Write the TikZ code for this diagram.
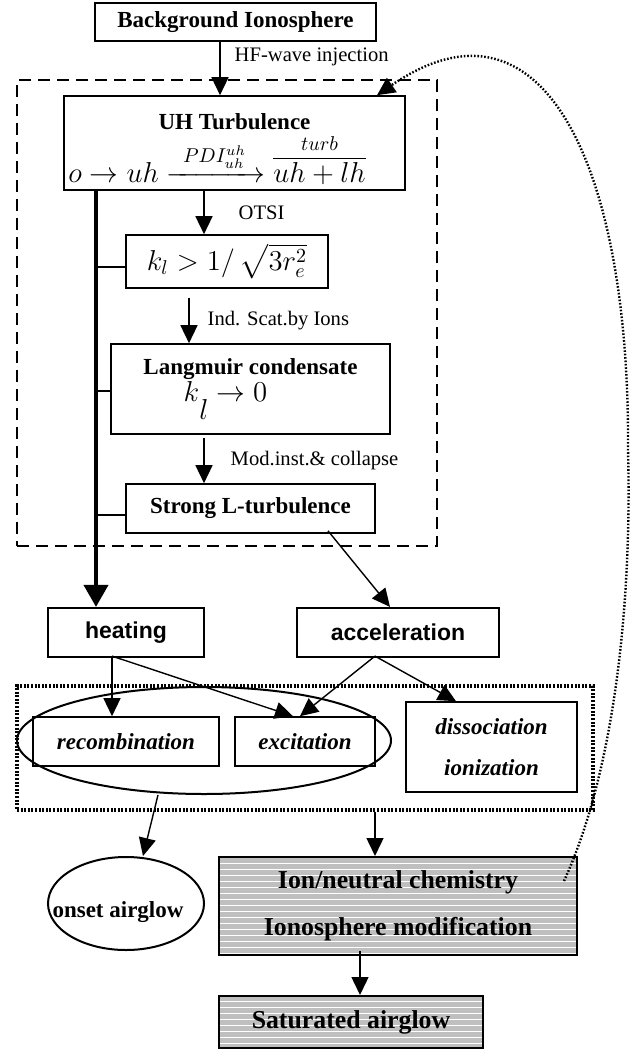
\documentclass[tikz,border=0pt]{standalone}
\usepackage{amsmath}
\usepackage{fontspec}
\setmainfont{Liberation Serif}
\setsansfont{Liberation Sans}
\usetikzlibrary{arrows.meta,shapes.geometric,patterns}

\newcommand\mth{\fontsize{14}{17}\selectfont}

\tikzset{
  box/.style={draw, line width=0.8pt, inner sep=0pt, align=center},
  ttl/.style={font=\fontsize{11.5}{13.8}\selectfont\bfseries},
  sbox/.style={box, line width=1.1pt, font=\fontsize{11.5}{13.8}\selectfont\sffamily\bfseries},
  ibox/.style={box, font=\fontsize{11.5}{13.8}\selectfont\bfseries\itshape},
  gbox/.style={box, line width=1pt, preaction={fill=gray!50}, pattern=horizontal lines, pattern color=white, font=\fontsize{12.9}{23.5}\selectfont\bfseries},
  lab/.style={font=\fontsize{10.3}{12}\selectfont, inner sep=0pt},
}

\begin{document}
\begin{tikzpicture}[x=0.5pt, y=-0.5pt,
    >={Triangle[length=9pt, width=8.5pt]},
    arr/.style={->, line width=0.7pt},
    thk/.style={-{Triangle[length=11pt, width=12pt]}, line width=2pt},
    fb/.style={->, line width=1.2pt, dash pattern=on 0.8pt off 0.9pt}]
    \useasboundingbox (0,0) rectangle (636,1050);

    \node[draw, line width=1pt, dash pattern=on 6pt off 3.5pt, inner sep=0pt, minimum width=210pt, minimum height=233pt] (core) at (227,313) {};
    \node[draw, line width=1.6pt, dash pattern=on 1pt off 0.8pt, inner sep=0pt, minimum width=288pt, minimum height=62pt] (grp) at (305,748) {};

    \node[box, ttl, minimum width=140.5pt, minimum height=19pt] (bg) at (235.5,22) {Background Ionosphere};
    \node[box, ttl, minimum width=170.5pt, minimum height=47pt] (uh) at (234.5,143) {\rule{0pt}{14pt}UH Turbulence\\[1pt]{\mth\mdseries $o \rightarrow uh \xrightarrow{\hspace{5pt}PDI_{uh}^{uh}\hspace{5pt}} \overset{turb}{\overline{uh + lh}}$}\hspace*{17.5pt}};
    \node[box, minimum width=101pt, minimum height=26.5pt] (kl) at (227,261.5) {\mth $k_l > 1/\,\sqrt{3r_e^2}$};
    \node[box, ttl, minimum width=139.5pt, minimum height=45pt] (lang) at (250.5,389) {Langmuir condensate\\{\mth\mdseries $k\raisebox{-1.4ex}{$l$}\rightarrow 0$}\hspace*{25pt}};
    \node[box, ttl, minimum width=124.5pt, minimum height=24.5pt] (strong) at (250.5,508.5) {Strong L-turbulence};

    \node[sbox, minimum width=78pt, minimum height=24.5pt] (heat) at (126,632.5) {heating};
    \node[sbox, minimum width=101pt, minimum height=24.5pt] (accel) at (398,632.5) {acceleration};

    \node[draw, ellipse, line width=1pt, inner sep=0pt, minimum width=187pt, minimum height=53.5pt] (ell) at (204,740.5) {};
    \node[ibox, minimum width=93pt, minimum height=24.5pt] (recomb) at (126,741.5) {recombination};
    \node[ibox, minimum width=70pt, minimum height=24.5pt] (excit) at (305,741.5) {excitation};
    \node[ibox, font=\fontsize{11.5}{20.5}\selectfont\bfseries\itshape, minimum width=85.5pt, minimum height=45pt] (dissoc) at (491.5,747) {dissociation\\ionization};

    \node[draw, ellipse, line width=1pt, inner sep=0pt, minimum width=78pt, minimum height=46.5pt] (onset) at (126,903.5) {};
    \node[ttl, inner sep=0pt] (onsetlbl) at (118,912) {onset airglow};
    \node[gbox, minimum width=179pt, minimum height=49pt] (ion) at (398,906) {Ion/neutral chemistry\\Ionosphere modification};
    \node[gbox, minimum width=132pt, minimum height=26pt] (sat) at (351,1022) {Saturated airglow};

    \draw[arr] ([xshift=-7.75pt]bg.south) -- ([xshift=-7.75pt]bg.south |- uh.north) node[lab, pos=0.29, right=7pt] {HF-wave injection};
    \draw[arr] ([xshift=-15.25pt]uh.south) -- ([xshift=-15.25pt]uh.south |- kl.north) node[lab, midway, right=17pt] {OTSI};
    \draw[arr] ([xshift=-19pt, yshift=-4.5pt]kl.south) -- ([xshift=-19pt]kl.south |- lang.north) node[lab, midway, right=9pt] {Ind. Scat.by Ions};
    \draw[arr] ([xshift=-23.25pt, yshift=-1.5pt]lang.south) -- ([xshift=-23.25pt]lang.south |- strong.north) node[lab, midway, right=13pt] {Mod.inst.\& collapse};

    \draw[thk] ([xshift=-15pt]heat.north |- uh.south) -- ([xshift=-15pt]heat.north);
    \draw[line width=0.7pt] ([yshift=-2.75pt]kl.west) -- ++(-15pt,0);
    \draw[line width=0.7pt] ([yshift=-1pt]lang.west) -- ++(-7.5pt,0);
    \draw[line width=0.7pt] ([yshift=-3.25pt]strong.west) -- ++(-15pt,0);

    \draw[arr] ([xshift=38.75pt, yshift=1.5pt]strong.south) -- ([xshift=-4pt]accel.north);
    \draw[arr] ([xshift=-7pt, yshift=1pt]heat.south) -- ([xshift=-7pt]recomb.north);
    \draw[arr] ([xshift=-7pt, yshift=1pt]heat.south) -- ([xshift=-6pt]excit.north);
    \draw[arr] ([xshift=-11.5pt, yshift=1pt]accel.south) -- ([xshift=-2.5pt]excit.north);
    \draw[arr] ([xshift=-11.5pt, yshift=1pt]accel.south) -- ([xshift=-17.75pt]dissoc.north);
    \draw[arr] ([xshift=-23pt]ell.south) -- ([xshift=8.5pt]onset.north);
    \draw[arr] ([xshift=35pt]grp.south) -- ([xshift=35pt]grp.south |- ion.north);
    \draw[arr] ([xshift=-19pt, yshift=2.5pt]ion.south) -- ([xshift=-19pt]ion.south |- sat.north);

    \draw[fb] ([xshift=-7pt, yshift=-12.5pt]ion.north east) .. controls (615,770) and (632,600) .. (628,450) .. controls (630,170) and (545,-20) .. ([xshift=71.25pt]uh.north);
\end{tikzpicture}
\end{document}
